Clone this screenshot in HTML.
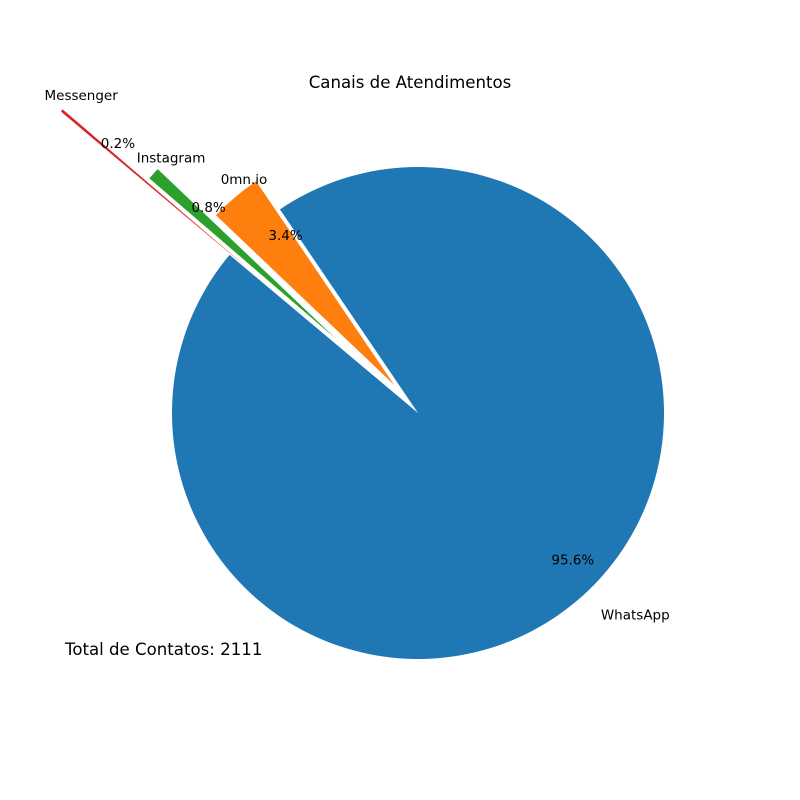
<!DOCTYPE html>
<html><head><meta charset="utf-8"><style>
html,body{margin:0;padding:0;background:#fff;}
svg{display:block;font-family:"DejaVu Sans","Liberation Sans",sans-serif;}
</style></head><body>
<svg id="chart" width="800" height="800" viewBox="0 0 800 800">
<text x="410" y="88" font-size="16.6" text-anchor="middle" fill="#000">Canais de Atendimentos</text>
<text x="65" y="655" font-size="16.6" fill="#000">Total de Contatos: 2111</text>
<g id="slices"></g>
</svg>
<script>
const categories = ["WhatsApp", "0mn.io", "Instagram", "Messenger"];
const counts = [2018, 72, 17, 4];
const explode = [0, 0.15, 0.45, 0.9];
const colors = ["#1f77b4", "#ff7f0e", "#2ca02c", "#d62728"];

const cx = 418, cy = 413, R = 246, startAngle = 140;
const NS = "http://www.w3.org/2000/svg";
const g = document.getElementById("slices");
const total = counts.reduce((a, b) => a + b, 0);
function pt(ox, oy, r, deg) {
  const a = deg * Math.PI / 180;
  return [ox + r * Math.cos(a), oy - r * Math.sin(a)];
}
let theta = startAngle;
counts.forEach((v, i) => {
  const span = v / total * 360;
  const t1 = theta, t2 = theta + span, tm = (t1 + t2) / 2;
  const [ox, oy] = pt(cx, cy, explode[i] * R, tm);
  const p1 = pt(ox, oy, R, t1), p2 = pt(ox, oy, R, t2);
  const large = span > 180 ? 1 : 0;
  const path = document.createElementNS(NS, "path");
  path.setAttribute("d", `M${ox},${oy} L${p1[0]},${p1[1]} A${R},${R} 0 ${large} 0 ${p2[0]},${p2[1]} Z`);
  path.setAttribute("fill", colors[i]);
  
  
  g.appendChild(path);

  const lp = pt(ox, oy, 1.1 * R, tm);
  const lab = document.createElementNS(NS, "text");
  lab.setAttribute("x", lp[0] + 1.5); lab.setAttribute("y", lp[1] + 5.5);
  lab.setAttribute("font-size", "13.5"); lab.setAttribute("fill", "#000");
  lab.textContent = categories[i];
  
  
  g.appendChild(lab);

  const pp = pt(ox, oy, 0.8 * R, tm);
  const pct = document.createElementNS(NS, "text");
  pct.setAttribute("x", pp[0] + 1.5); pct.setAttribute("y", pp[1] + 5.5);
  pct.setAttribute("font-size", "13.5"); pct.setAttribute("fill", "#000");
  pct.textContent = (v / total * 100).toFixed(1) + "%";
  
  
  g.appendChild(pct);
  theta = t2;
});
</script>
</body></html>
